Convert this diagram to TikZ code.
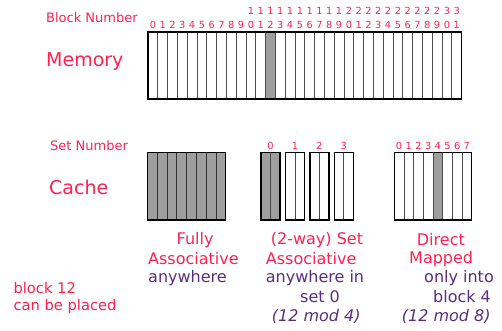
\documentclass[tikz,border=0pt]{standalone}
\usepackage{fontspec}
\setmainfont{DejaVu Sans}
\usetikzlibrary{positioning}
\definecolor{lblred}{RGB}{255,32,80}
\definecolor{lblpurple}{RGB}{90,44,130}
\tikzset{
  outbox/.style  ={draw=black, line width=1.4pt},
  cellln/.style  ={draw=black!70, line width=0.7pt},
  hit/.style     ={fill=black!38},
  digit/.style   ={text=lblred, font=\fontsize{9.8pt}{11pt}\selectfont, inner sep=0pt, anchor=base},
  rowtitle/.style={text=lblred, font=\fontsize{13pt}{15pt}\selectfont, inner sep=0pt, anchor=west},
  bigtitle/.style={text=lblred, font=\fontsize{19pt}{22pt}\selectfont, inner sep=0pt, anchor=west},
  kind/.style    ={text=lblred, font=\fontsize{16pt}{19pt}\selectfont, inner sep=0pt, anchor=west},
  where/.style   ={text=lblpurple, font=\fontsize{16pt}{19pt}\selectfont, inner sep=0pt, anchor=west},
  modn/.style    ={where, font=\fontsize{16pt}{19pt}\selectfont\itshape},
}
\begin{document}
\begin{tikzpicture}[x=1pt, y=-1pt]
  \useasboundingbox (0,0) rectangle (502,330);

  % left labels
  \node[rowtitle] (blknum) at (46,18) {Block Number};
  \node[bigtitle] (mem)    at (46,62) {Memory};
  \node[rowtitle] (setnum) at (50,146) {Set Number};
  \node[bigtitle] (cache)  at (49,187) {Cache};

  % memory: 32 blocks, block 12 shaded
  \fill[hit] (148+9.8*12,32) rectangle (148+9.8*13,99);
  \foreach \i in {1,...,31}
    \draw[cellln] (148+9.8*\i,32) -- (148+9.8*\i,99);
  \draw[outbox] (148,32) rectangle (461.6,99);
  \foreach \i in {0,...,31}{
    \pgfmathtruncatemacro{\ones}{mod(\i,10)}
    \pgfmathtruncatemacro{\tens}{div(\i,10)}
    \node[digit] (mo\i) at (148+9.8*\i+4.9,28) {\ones};
    \ifnum\i>9
      \node[digit] (mt\i) at (148+9.8*\i+4.9,14.5) {\tens};
    \fi
  }

  % fully associative: 8 blocks, all shaded
  \fill[hit] (147.3,152.7) rectangle (225.7,220);
  \foreach \i in {1,...,7}
    \draw[cellln, draw=black!80] (147.3+9.8*\i,152.7) -- (147.3+9.8*\i,220);
  \draw[outbox] (147.3,152.7) rectangle (225.7,220);

  % 2-way set associative: 4 sets of 2 blocks, set 0 shaded
  \fill[hit] (261,152.7) rectangle (280,220);
  \foreach \s in {0,...,3}{
    \draw[cellln] (270.5+24.4*\s,152.7) -- (270.5+24.4*\s,220);
    \draw[outbox] (261+24.4*\s,152.7) rectangle (280+24.4*\s,220);
    \node[digit] (set\s) at (270.5+24.4*\s,149) {\s};
  }

  % direct mapped: 8 blocks, block 4 shaded
  \fill[hit] (394.3+9.67*4,152.7) rectangle (394.3+9.67*5,220);
  \foreach \i in {1,...,7}
    \draw[cellln] (394.3+9.67*\i,152.7) -- (394.3+9.67*\i,220);
  \draw[outbox] (394.3,152.7) rectangle (471.7,220);
  \foreach \i in {0,...,7}
    \node[digit] (dm\i) at (394.3+9.67*\i+4.8,149) {\i};

  % placement notes
  \node[kind]  (fa1) at (176.5,240) {Fully};
  \node[kind]  (fa2) at (148,259)   {Associative};
  \node[where] (fa3) at (148,278)   {anywhere};

  \node[kind]  (sa1) at (270.7,240) {(2-way) Set};
  \node[kind]  (sa2) at (265.7,259) {Associative};
  \node[where] (sa3) at (265.7,278) {anywhere in};
  \node[where] (sa4) at (300,297)   {set 0};
  \node[modn]  (sa5) at (271.7,316) {(12 mod 4)};

  \node[kind]  (dm1) at (416.7,240) {Direct};
  \node[kind]  (dm2) at (409,259)   {Mapped};
  \node[where] (dm3) at (424,278)   {only into};
  \node[where] (dm4) at (433,297)   {block 4};
  \node[modn]  (dm5) at (401.7,316) {(12 mod 8)};

  \node[kind, font=\fontsize{14.7pt}{17pt}\selectfont] (b12a) at (13.3,288) {block 12};
  \node[kind, font=\fontsize{14.7pt}{17pt}\selectfont] (b12b) at (13.3,306) {can be placed};
\end{tikzpicture}
\end{document}
